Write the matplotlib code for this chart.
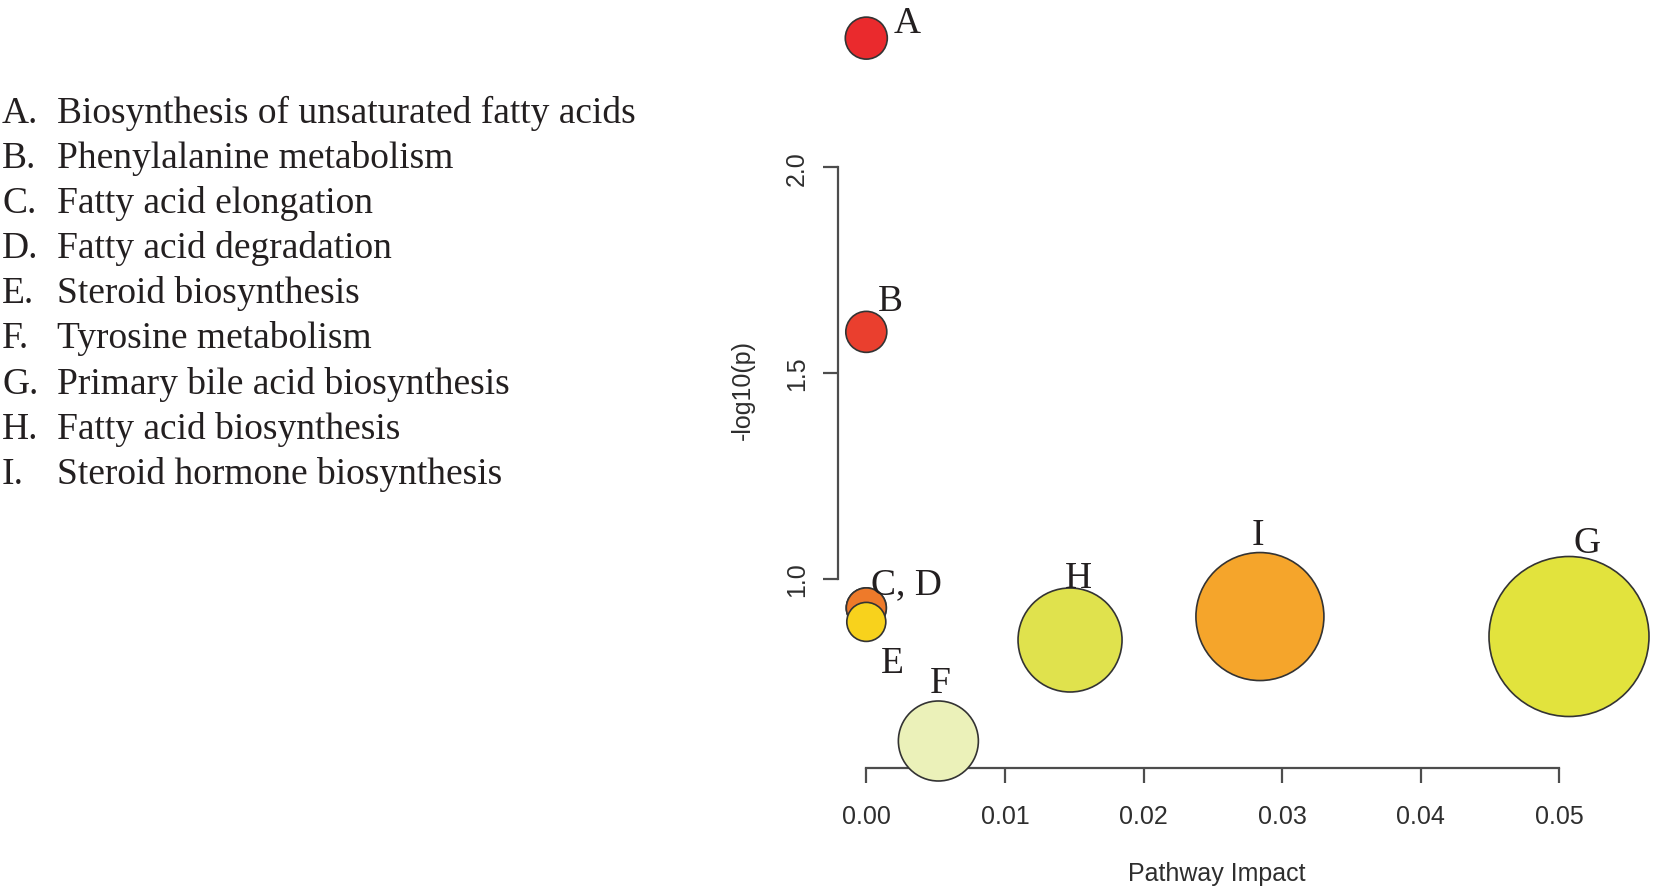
import matplotlib
matplotlib.use('Agg')
import matplotlib.pyplot as plt

# pathway data
labels = ['A', 'B', 'C', 'D', 'E', 'F', 'G', 'H', 'I']
pathways = ['Biosynthesis of unsaturated fatty acids',
            'Phenylalanine metabolism',
            'Fatty acid elongation',
            'Fatty acid degradation',
            'Steroid biosynthesis',
            'Tyrosine metabolism',
            'Primary bile acid biosynthesis',
            'Fatty acid biosynthesis',
            'Steroid hormone biosynthesis']
impact = [0.0, 0.0, 0.0, 0.0, 0.0, 0.0052, 0.0507, 0.0147, 0.0284]
neglogp = [2.314, 1.600, 0.929, 0.929, 0.895, 0.6055, 0.8595, 0.851, 0.908]

# styling (radius in px, fill colours, label offsets in px)
radius = [21, 20.5, 20, 20, 19.5, 40, 80, 52, 64]
colors = ['#EA2A2D', '#EA3F2E', '#EE7A2A', '#EE7A2A', '#F8D21C',
          '#EBF1B9', '#E2E33D', '#E0E24D', '#F5A52B']
offsets = [(40.5, 6.5), (24.5, 21.6), (40.5, 15), None, (26.5, -50),
           (2, 49), (18, 85), (8.5, 53), (-1.5, 72.5)]

W, H = 1654, 887
fig = plt.figure(figsize=(W / 100, H / 100), dpi=100)

# axes box in pixels: x 780..1654, y 0..790 (from top)
ax = fig.add_axes([780 / W, (H - 790) / H, 874 / W, 790 / H])
px_x = 13860.0   # px per unit impact
px_y = 411.4     # px per unit -log10(p)
x0_px, y1_px = 866.3, 579.7
ax.set_xlim((780 - x0_px) / px_x, (1654 - x0_px) / px_x)
ax.set_ylim(1 - (790 - y1_px) / px_y, 1 + y1_px / px_y)

sizes = [(2 * r * 0.72) ** 2 for r in radius]
ax.scatter(impact, neglogp, s=sizes, c=colors, edgecolors='#333333',
           linewidths=1.2, zorder=3, clip_on=False)

pt = 0.72
for i, lab in enumerate(labels):
    if offsets[i] is None:
        continue
    txt = 'C, D' if lab == 'C' else lab
    dx, dy = offsets[i]
    ax.annotate(txt, (impact[i], neglogp[i]), xytext=(dx * pt, dy * pt),
                textcoords='offset points', ha='center', va='baseline',
                fontsize=27, family='Liberation Serif', color='#231f20',
                zorder=4, annotation_clip=False)

for s in ['top', 'right']:
    ax.spines[s].set_visible(False)
ax.spines['left'].set_position(('data', (838 - x0_px) / px_x))
ax.spines['left'].set_bounds(1.0, 2.0)
ax.spines['bottom'].set_position(('data', 1 - (769 - y1_px) / px_y))
ax.spines['bottom'].set_bounds(0.0, 0.05)
for s in ['left', 'bottom']:
    ax.spines[s].set_color('#4d4d4d')
    ax.spines[s].set_linewidth(1.6)
    ax.spines[s].set_zorder(2)

ax.set_yticks([1.0, 1.5, 2.0])
ax.set_yticklabels(['1.0', '1.5', '2.0'], rotation=90, va='center')
ax.set_xticks([0.0, 0.01, 0.02, 0.03, 0.04, 0.05])
ax.set_xticklabels(['0.00', '0.01', '0.02', '0.03', '0.04', '0.05'])
ax.tick_params(axis='y', length=11, width=1.6, color='#4d4d4d', pad=10,
               labelsize=18, labelcolor='#2e2e2e')
ax.tick_params(axis='x', length=11, width=1.6, color='#4d4d4d', pad=15,
               labelsize=18, labelcolor='#2e2e2e')
for t in ax.get_xticklabels() + ax.get_yticklabels():
    t.set_family('Liberation Sans')

ax.text((743 - 780) / 874, (790 - 390) / 790, '-log10(p)', transform=ax.transAxes,
        rotation=90, ha='center', va='center', fontsize=18,
        family='Liberation Sans', color='#2e2e2e')
ax.text((1217 - 780) / 874, (790 - 874) / 790, 'Pathway Impact',
        transform=ax.transAxes, ha='center', va='center', fontsize=18,
        family='Liberation Sans', color='#2e2e2e')

# key on the left
for i, (lab, name) in enumerate(zip(labels, pathways)):
    yb = 123 + 45.1 * i
    fig.text(2 / W, (H - yb) / H, lab + '.', fontsize=27,
             family='Liberation Serif', color='#231f20', va='baseline')
    fig.text(57 / W, (H - yb) / H, name, fontsize=27,
             family='Liberation Serif', color='#231f20', va='baseline')

fig.savefig('out.png', dpi=100)
